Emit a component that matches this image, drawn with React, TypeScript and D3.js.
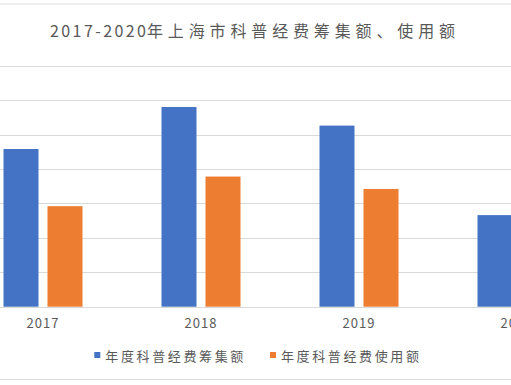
import React from "react";
import * as d3 from "d3";

const years = ["2017", "2018", "2019", "2020"];
const seriesNames = ["年度科普经费筹集额", "年度科普经费使用额"];
const raised = [22.9, 29.0, 26.3, 13.3];
const used = [14.6, 18.9, 17.1, 11.0];
const yTicks = [0, 5, 10, 15, 20, 25, 30, 35];
const titleNum = "2017-2020";
const titleCjk = "年上海市科普经费筹集额、使用额";

const W = 511;
const H = 385;
const colors = ["#4472C4", "#ED7D31"];
const textColor = "#595959";
const gridColor = "#D9D9D9";
const font = "'Noto Sans CJK SC', 'DejaVu Sans', sans-serif";

export default function App() {
  const x0 = d3.scaleBand<string>().domain(years).range([-36, 596]).padding(0);
  const x1 = d3
    .scaleBand<string>()
    .domain(seriesNames)
    .range([39.5, 118.5])
    .paddingInner(0.2045)
    .paddingOuter(0);
  const y = d3.scaleLinear().domain([0, 35]).range([306.7, 65.7]);
  const values = [raised, used];

  return (
    <svg
      width={W}
      height={H}
      style={{ position: "fixed", left: 0, top: 0, background: "#fff" }}
      fontFamily={font}
    >
      <rect width={W} height={H} fill="#fff" />
      <line x1={0} x2={W} y1={4} y2={4} stroke={gridColor} strokeWidth={1} />
      <line x1={0} x2={W} y1={379.5} y2={379.5} stroke={gridColor} strokeWidth={1} />
      <text y={37} fill={textColor} fontSize={16}>
        <tspan x={50} textLength={96} lengthAdjust="spacing">
          {titleNum}
        </tspan>
        <tspan x={147} textLength={308} lengthAdjust="spacing">
          {titleCjk}
        </tspan>
      </text>
      {yTicks.map((t) => (
        <line
          key={t}
          x1={0}
          x2={W}
          y1={Math.round(y(t)) + 0.5}
          y2={Math.round(y(t)) + 0.5}
          stroke={gridColor}
          strokeWidth={1}
        />
      ))}
      {seriesNames.map((s, si) =>
        years.map((yr, i) => {
          const bx = (x0(yr) as number) + (x1(s) as number);
          const v = values[si][i];
          return (
            <rect
              key={s + yr}
              x={bx}
              y={y(v)}
              width={x1.bandwidth()}
              height={y(0) - y(v)}
              fill={colors[si]}
            />
          );
        })
      )}
      {years.map((yr) => (
        <text
          key={yr}
          x={(x0(yr) as number) + x0.bandwidth() / 2}
          y={328}
          textAnchor="middle"
          fill={textColor}
          fontSize={13}
          letterSpacing={1}
        >
          {yr}
        </text>
      ))}
      {seriesNames.map((s, si) => {
        const lx = si === 0 ? 94.3 : 270;
        return (
          <g key={s}>
            <rect x={lx} y={352} width={6} height={6} fill={colors[si]} />
            <text
              x={lx + 11}
              y={361}
              fill={textColor}
              fontSize={13}
              textLength={138}
              lengthAdjust="spacing"
            >
              {s}
            </text>
          </g>
        );
      })}
    </svg>
  );
}
